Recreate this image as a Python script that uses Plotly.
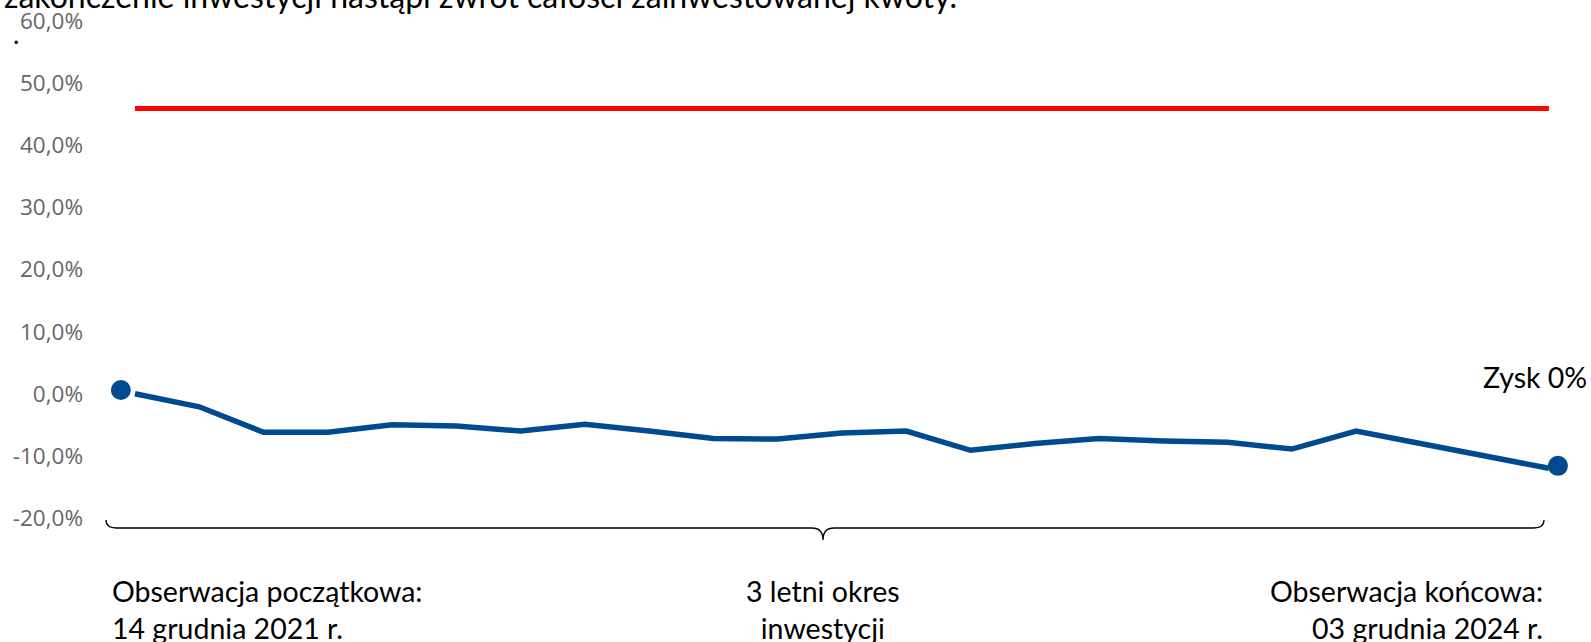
import plotly.graph_objects as go

# ---- data ----
obs_index = list(range(23))
perf_values = [0.0, -2.1, -6.2, -6.2, -5.0, -5.2, -6.0, -4.9, -6.0, -7.2, -7.3, -6.3,
               -6.0, -9.1, -8.0, -7.2, -7.6, -7.8, -8.9, -6.0, -8.0, -9.9, -12.0]
barrier_level = [45.9, 45.9]
barrier_x = [0, 22]
marker_x = [-0.22, 22.14]
marker_y = [0.6, -11.6]
tick_vals = [-20, -10, 0, 10, 20, 30, 40, 50, 60]
tick_labels = ["-20,0%", "-10,0%", "0,0%", "10,0%", "20,0%", "30,0%", "40,0%", "50,0%", "60,0%"]

BLUE = "#004A8F"
RED = "#FF0000"
W, H = 1591, 642
L, R, T = 84, 14, 21
B = H - 518
pw, ph = W - L - R, H - T - B
X0_PX, STEP = 135, 64.27
xr = [-(X0_PX - L) / STEP, 22 + ((W - R) - (X0_PX + 22 * STEP)) / STEP]

def px(xp):
    return (xp - L) / pw

def py(yp):
    return (H - B - yp) / ph

fig = go.Figure()
fig.add_trace(go.Scatter(x=barrier_x, y=barrier_level, mode="lines",
                         line=dict(color=RED, width=5), hoverinfo="skip", showlegend=False))
fig.add_trace(go.Scatter(x=obs_index, y=perf_values, mode="lines",
                         line=dict(color=BLUE, width=5.5), showlegend=False))
fig.add_trace(go.Scatter(x=marker_x, y=marker_y, mode="markers",
                         marker=dict(color=BLUE, size=20), showlegend=False, cliponaxis=False))

# bracket
x0, xc, x1 = px(106), px(823), px(1544)
yt, ym, yb = py(520), py(528), py(540)
e = 11 / pw
path = (f"M {x0},{yt} Q {x0},{ym} {x0+e},{ym} L {xc-e},{ym} Q {xc},{ym} {xc},{yb} "
        f"Q {xc},{ym} {xc+e},{ym} L {x1-e},{ym} Q {x1},{ym} {x1},{yt}")
fig.add_shape(type="path", path=path, xref="paper", yref="paper",
              line=dict(color="#000000", width=1.3))

FONT = "Lato"
afont = dict(family=FONT, size=28.5, color="#000000")
fig.add_annotation(x=px(110), y=py(610), xref="paper", yref="paper", xanchor="left", yanchor="middle",
                   text="Obserwacja początkowa:<br>14 grudnia 2021 r.", showarrow=False,
                   align="left", font=afont)
fig.add_annotation(x=px(823), y=py(610), xref="paper", yref="paper", xanchor="center", yanchor="middle",
                   text="3 letni okres<br>inwestycji", showarrow=False, align="center", font=afont)
fig.add_annotation(x=px(1545), y=py(610), xref="paper", yref="paper", xanchor="right", yanchor="middle",
                   text="Obserwacja końcowa:<br>03 grudnia 2024 r.", showarrow=False,
                   align="right", font=afont)
fig.add_annotation(x=px(1589), y=py(377), xref="paper", yref="paper", xanchor="right", yanchor="middle",
                   text="Zysk 0%", showarrow=False, font=afont)
fig.add_annotation(x=px(2), y=py(16.5), xref="paper", yref="paper", xanchor="left", yanchor="bottom",
                   text="zakończenie inwestycji nastąpi zwrot całości zainwestowanej kwoty.",
                   showarrow=False, font=dict(family=FONT, size=32, color="#000000"))
fig.add_annotation(x=px(11), y=py(52), xref="paper", yref="paper", xanchor="left", yanchor="bottom",
                   text=".", showarrow=False, font=dict(family=FONT, size=27, color="#000000"))

fig.update_layout(
    width=W, height=H,
    margin=dict(l=L, r=R, t=T, b=B, autoexpand=False),
    paper_bgcolor="white", plot_bgcolor="white",
    xaxis=dict(range=xr, showgrid=False, zeroline=False, showline=False,
               showticklabels=False, ticks="", automargin=False),
    yaxis=dict(range=[-20, 60], tickvals=tick_vals, ticktext=tick_labels, showgrid=False,
               zeroline=False, showline=False, ticks="", automargin=False,
               ticklabeloverflow="allow",
               tickfont=dict(family="Open Sans", size=22.5, color="#666666")),
)
fig.write_html("out.html", config={"displayModeBar": False},
               post_script="document.body.style.margin='0';document.body.style.overflow='hidden';")
